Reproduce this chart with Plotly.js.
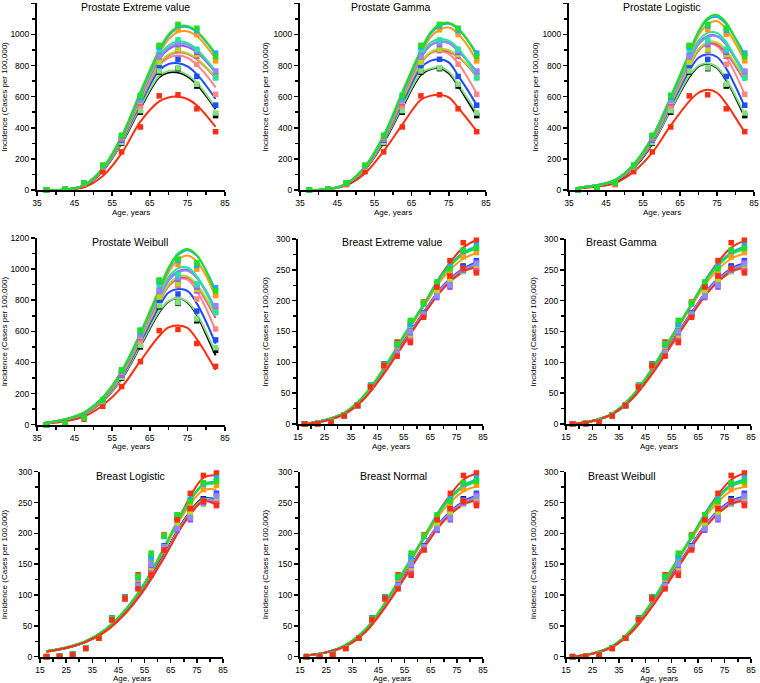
<!DOCTYPE html>
<html><head><meta charset="utf-8">
<script src="https://cdn.plot.ly/plotly-3.0.1.min.js"></script>
<style>html,body{margin:0;padding:0;background:#fff}</style>
</head><body><div id="chart" style="width:760px;height:683px"></div>
<script>
// series order
const seriesNames = ['red','black','lightgreen','blue','salmon','magenta','yellowgreen','purple','periwinkle','teal','orange','sky','green','red2'];
const seriesColors = ['#ff2e12','#000000','#7fe27f','#1f4cff','#ff8585','#ff3fa0','#a8e01a','#9b4dff','#8c8cff','#22e6a0','#ff9a12','#1fa8ff','#1ee01e','#ff2e12'];

const prostateAges = [37.5,42.5,47.5,52.5,57.5,62.5,67.5,72.5,77.5,82.5];
const breastAges = [17.5,22.5,27.5,32.5,37.5,42.5,47.5,52.5,57.5,62.5,67.5,72.5,77.5,82.5];
const prostateFitAges = [37.5,42.5,47.5,52.5,57.5,62.5,67.5,70,72.5,75,77.5,80,82.5];
const breastFitAges = [17.5,25,32.5,40,47.5,55,62.5,70,77.5,82.5];

const prostatePoints = [
  [0,8,35,118,245,405,605,612,522,375],
  [0,5,45,148,300,500,758,780,668,478],
  [0,5,45,150,305,510,765,785,680,495],
  [0,5,45,155,320,545,800,840,730,545],
  [0,5,42,150,325,540,825,895,808,615],
  [0,5,42,148,325,560,830,900,860,725],
  [0,5,42,150,330,570,820,905,870,735],
  [0,5,45,150,330,580,865,935,885,760],
  [0,5,45,152,335,575,860,945,895,765],
  [0,6,45,158,350,610,900,965,905,720],
  [0,6,42,150,340,600,925,1030,1000,830],
  [0,6,45,155,345,595,920,1055,1025,880],
  [0,6,45,160,352,605,930,1065,1040,860],
  null
];

const breastPoints = [
  [0,0.5,4,14,30,60,93,133,158,198,226,265,294,298],
  [0,1,4,14,30,62,97,115,138,178,224,238,256,252],
  [0,1,4,14,30,61,95,112,150,175,216,230,247,255],
  [0,1,4,14,30,63,97,117,140,180,224,242,255,265],
  [0,1,4,14,30,60,94,114,137,176,212,230,250,250],
  [0,1,4,14,30,60,94,112,135,175,208,225,250,248],
  [0,1,4,14,30,61,95,115,145,178,215,235,252,258],
  [0,1,4,14,30,61,95,113,148,177,205,222,250,262],
  [0,1,4,14,30,61,95,115,150,178,208,225,252,260],
  [0,1,4,14,30,62,96,130,160,195,228,255,280,283],
  [0,1,4,14,30,61,95,125,163,197,222,245,271,278],
  [0,1,4,14,30,62,97,128,162,195,230,255,280,290],
  [0,1,4,14,30,62,96,130,168,196,230,252,282,285],
  [0,0.5,3,13,30,60,95,110,132,173,222,240,252,245]
];

const prostateEVFit = [
  [0,2,18,90,235,440,570,595,600,585,545,480,405],
  [0,3,26,122,300,525,725,755,755,730,680,605,520],
  [0,3,28,125,305,535,735,765,765,740,690,615,530],
  [0,3,28,128,315,555,770,810,815,795,745,670,585],
  [0,3,28,130,320,570,800,850,865,850,805,740,660],
  [0,3,28,130,320,575,810,865,885,875,840,785,720],
  [0,3,30,133,325,580,815,870,890,880,845,790,725],
  [0,3,30,135,330,595,840,905,930,920,885,825,755],
  [0,3,30,138,335,600,845,915,940,935,895,835,765],
  [0,3,30,140,340,610,860,930,955,945,905,840,760],
  [0,3,30,135,335,610,875,970,1015,1020,990,925,845],
  [0,3,30,138,340,620,890,990,1040,1048,1015,950,870],
  [0,3,30,140,345,630,900,1000,1050,1055,1020,955,875],
  null
];

const prostateGammaFit = [
  [0,4,30,108,250,420,580,605,612,595,530,455,378],
  [0,5,36,132,305,530,740,775,782,750,670,575,478],
  [0,5,38,135,312,540,750,780,790,760,680,590,500],
  [0,5,38,138,320,560,785,830,840,820,735,645,545],
  [0,5,38,138,325,575,815,880,893,875,815,725,620],
  [0,5,40,140,330,580,815,880,900,890,855,800,730],
  [0,5,40,142,332,585,820,885,905,898,860,805,740],
  [0,5,40,145,338,600,848,928,955,945,895,830,760],
  [0,5,40,148,340,605,850,930,950,945,900,835,760],
  [0,5,42,152,350,620,870,945,970,960,910,830,725],
  [0,5,40,145,340,610,875,980,1030,1045,1005,930,830],
  [0,5,40,148,345,620,890,1000,1055,1068,1035,965,880],
  [0,5,40,150,350,630,900,1010,1065,1075,1040,965,865],
  null
];

const prostateLogisticFit = [
  [10,22,45,118,240,415,570,625,645,625,555,465,370],
  [15,28,55,142,295,515,725,795,812,785,705,595,470],
  [15,28,58,145,300,520,735,800,815,790,715,605,485],
  [15,30,60,150,308,540,765,850,872,855,780,665,535],
  [15,30,60,152,315,552,790,895,940,925,855,745,615],
  [15,30,60,152,318,555,795,900,940,935,880,795,700],
  [15,30,62,155,320,560,800,905,950,948,895,810,720],
  [15,30,62,158,328,572,825,940,990,990,935,840,745],
  [15,30,62,160,330,575,825,935,985,988,935,850,755],
  [15,30,65,165,340,590,845,960,1010,1010,950,845,725],
  [15,30,65,160,335,590,860,995,1065,1085,1035,940,830],
  [15,30,65,165,338,595,875,1015,1095,1112,1065,975,870],
  [15,30,65,165,340,600,880,1020,1105,1125,1075,970,855],
  null
];

const prostateWeibullFit = [
  [6,22,52,125,240,410,570,625,638,622,550,455,352],
  [11,31,66,150,294,505,722,792,812,785,705,580,445],
  [11,31,67,152,298,512,730,795,815,790,715,595,465],
  [12,33,70,158,308,530,760,850,872,860,780,660,520],
  [12,33,72,162,316,545,785,890,935,932,860,745,605],
  [12,33,72,162,318,548,790,895,940,945,890,795,685],
  [12,33,73,165,322,552,795,900,950,953,900,810,700],
  [12,34,75,168,330,565,815,930,985,995,945,850,735],
  [12,34,75,170,332,565,815,925,980,990,945,860,745],
  [12,35,78,175,342,580,835,950,1005,1010,955,850,715],
  [12,35,76,170,335,575,845,980,1060,1088,1050,955,820],
  [12,35,78,175,342,585,860,1000,1090,1122,1085,990,865],
  [12,35,78,175,345,590,870,1010,1100,1130,1090,985,845],
  null
];

const breastEVFit = [
  [0,6,18,45,88,140,192,247,286,298],
  [0,6,17,43,84,133,180,223,248,256],
  [0,6,17,42,83,131,178,221,246,254],
  [0,6,17,43,84,133,181,225,252,262],
  [0,5,16,41,82,130,178,222,248,256],
  [0,5,16,41,82,130,178,221,248,257],
  [0,6,17,42,83,132,179,223,249,258],
  [0,6,17,42,83,131,179,223,250,260],
  [0,6,17,42,83,131,179,223,250,259],
  [0,6,18,46,90,142,192,243,275,284],
  [0,6,18,45,89,141,190,238,268,277],
  [0,6,18,46,90,143,194,246,278,288],
  [0,6,18,46,90,143,193,244,276,285],
  [0,5,16,41,82,130,177,220,247,255]
];

const breastGammaFit = [
  [0,5,17,44,87,139,193,248,286,297],
  [0,5,16,42,83,132,180,223,248,255],
  [0,5,16,41,82,130,178,221,246,253],
  [0,5,16,42,83,132,181,225,252,261],
  [0,5,16,41,81,129,178,222,248,255],
  [0,5,16,41,81,129,178,221,248,256],
  [0,5,16,42,82,131,179,223,249,257],
  [0,5,16,42,82,130,179,223,250,259],
  [0,5,16,42,82,130,179,223,250,258],
  [0,5,17,45,89,141,193,244,275,283],
  [0,5,17,44,88,140,191,239,268,276],
  [0,5,17,45,89,142,195,247,278,287],
  [0,5,17,45,89,142,194,245,276,284],
  [0,5,16,41,81,129,177,220,247,254]
];

const breastLogisticFit = [
  [8,14,24,42,72,115,173,240,290,294],
  [9,14,24,42,71,112,165,221,257,252],
  [9,14,24,41,70,110,162,217,252,248],
  [9,14,24,42,71,112,165,220,256,255],
  [9,14,24,41,70,110,162,218,254,250],
  [9,14,24,41,70,110,162,217,253,250],
  [9,14,24,42,70,111,163,219,255,252],
  [9,14,24,42,70,110,162,218,253,252],
  [9,14,24,42,70,110,162,218,253,252],
  [9,15,25,44,75,119,177,237,278,280],
  [9,15,25,44,75,118,174,232,270,271],
  [9,15,25,44,75,119,177,238,280,283],
  [9,15,25,44,75,119,177,237,279,281],
  [8,14,24,41,70,110,161,216,252,246]
];

const breastNormalFit = [
  [2,7,18,43,85,138,193,248,287,297],
  [2,7,18,42,82,131,180,223,248,255],
  [2,7,18,41,81,129,178,221,246,253],
  [2,7,18,42,82,131,181,225,252,261],
  [2,7,17,40,80,128,178,222,248,255],
  [2,7,17,40,80,128,178,221,248,256],
  [2,7,18,41,81,130,179,223,249,257],
  [2,7,18,41,81,129,179,223,250,259],
  [2,7,18,41,81,129,179,223,250,258],
  [2,7,19,44,87,140,193,244,275,283],
  [2,7,19,43,86,139,191,239,268,276],
  [2,7,19,44,87,141,195,247,278,287],
  [2,7,19,44,87,141,194,245,276,284],
  [2,7,17,40,80,128,177,220,247,254]
];

const breastWeibullFit = [
  [0,5,17,44,87,139,193,248,287,297],
  [0,5,16,42,83,132,181,224,250,255],
  [0,5,16,41,82,130,179,222,247,252],
  [0,5,16,42,83,132,182,226,253,260],
  [0,5,16,41,81,129,179,223,249,254],
  [0,5,16,41,81,129,179,222,249,255],
  [0,5,16,42,82,131,180,224,250,256],
  [0,5,16,42,82,130,180,224,251,258],
  [0,5,16,42,82,130,180,224,251,257],
  [0,5,17,45,89,141,193,244,276,283],
  [0,5,17,44,88,140,191,239,269,275],
  [0,5,17,45,89,142,195,247,279,287],
  [0,5,17,45,89,142,194,245,277,284],
  [0,5,16,41,81,129,178,221,248,253]
];

const W = 760, H = 683;
const panels = [
  {title:'Prostate Extreme value', ages:prostateAges, pts:prostatePoints, fx:prostateFitAges, fit:prostateEVFit, xr:[35,85], yr:[0,1200], dy:200, my:100, px:[37,225], py:[3.3,190], tx:135, ty:7, ylx:5},
  {title:'Prostate Gamma', ages:prostateAges, pts:prostatePoints, fx:prostateFitAges, fit:prostateGammaFit, xr:[35,85], yr:[0,1200], dy:200, my:100, px:[300,486], py:[3.3,190], tx:391, ty:7, ylx:266},
  {title:'Prostate Logistic', ages:prostateAges, pts:prostatePoints, fx:prostateFitAges, fit:prostateLogisticFit, xr:[35,85], yr:[0,1200], dy:200, my:100, px:[569,754], py:[3.3,190], tx:662, ty:7, ylx:536},
  {title:'Prostate Weibull', ages:prostateAges, pts:prostatePoints, fx:prostateFitAges, fit:prostateWeibullFit, xr:[35,85], yr:[0,1200], dy:200, my:100, px:[37,225], py:[238,424.7], tx:130, ty:242, ylx:4},
  {title:'Breast Extreme value', ages:breastAges, pts:breastPoints, fx:breastFitAges, fit:breastEVFit, xr:[15,85], yr:[0,300], dy:50, my:25, px:[298,483], py:[239,424], tx:392, ty:242, ylx:265},
  {title:'Breast Gamma', ages:breastAges, pts:breastPoints, fx:breastFitAges, fit:breastGammaFit, xr:[15,85], yr:[0,300], dy:50, my:25, px:[566,751], py:[239,424], tx:621, ty:242, ylx:533},
  {title:'Breast Logistic', ages:breastAges, pts:breastPoints, fx:breastFitAges, fit:breastLogisticFit, xr:[15,85], yr:[0,300], dy:50, my:25, px:[40,223], py:[471.7,656.7], tx:130, ty:476, ylx:4},
  {title:'Breast Normal', ages:breastAges, pts:breastPoints, fx:breastFitAges, fit:breastNormalFit, xr:[15,85], yr:[0,300], dy:50, my:25, px:[300,483], py:[471.7,656.7], tx:393, ty:476, ylx:265},
  {title:'Breast Weibull', ages:breastAges, pts:breastPoints, fx:breastFitAges, fit:breastWeibullFit, xr:[15,85], yr:[0,300], dy:50, my:25, px:[566,751], py:[471.7,656.7], tx:622, ty:476, ylx:533}
];

const FONT = 'Liberation Sans, Arial, Helvetica, sans-serif';
const traces = [];
const layout = {
  width:W, height:H, margin:{l:0,r:0,t:0,b:0}, showlegend:false,
  paper_bgcolor:'#fff', plot_bgcolor:'rgba(0,0,0,0)',
  font:{family:FONT, color:'#000'}, annotations:[]
};

panels.forEach((p, i) => {
  const k = i + 1;
  const xid = k === 1 ? 'x' : 'x' + k;
  const yid = k === 1 ? 'y' : 'y' + k;
  const xkey = k === 1 ? 'xaxis' : 'xaxis' + k;
  const ykey = k === 1 ? 'yaxis' : 'yaxis' + k;
  const common = {showline:true, linewidth:2, linecolor:'#000', ticks:'outside', ticklen:4, tickwidth:1.5, tickcolor:'#000',
    showgrid:false, zeroline:false, tickfont:{size:8.5, color:'#000', family:FONT}, fixedrange:true};
  layout[xkey] = Object.assign({}, common, {domain:[p.px[0]/W, p.px[1]/W], range:p.xr, anchor:yid, tick0:p.xr[0], dtick:10,
    minor:{tick0:p.xr[0], dtick:5, ticks:'outside', ticklen:3, tickwidth:1.5, tickcolor:'#000', showgrid:false}});
  layout[ykey] = Object.assign({}, common, {domain:[1 - p.py[1]/H, 1 - p.py[0]/H], range:p.yr, anchor:xid, tick0:0, dtick:p.dy,
    minor:{tick0:0, dtick:p.my, ticks:'outside', ticklen:3, tickwidth:1.5, tickcolor:'#000', showgrid:false}});

  // fitted curves
  seriesNames.forEach((nm, s) => {
    if (!p.fit[s]) return;
    traces.push({type:'scatter', mode:'lines', x:p.fx, y:p.fit[s], xaxis:xid, yaxis:yid, name:nm,
      line:{color:seriesColors[s], width:2, shape:'spline', smoothing:1}, hoverinfo:'skip', cliponaxis:false});
  });
  // observed points
  seriesNames.forEach((nm, s) => {
    if (!p.pts[s]) return;
    traces.push({type:'scatter', mode:'markers', x:p.ages, y:p.pts[s], xaxis:xid, yaxis:yid, name:nm,
      marker:{symbol:'square', size:5.5, color:seriesColors[s], line:{width:0}}, hoverinfo:'skip', cliponaxis:false});
  });

  const cx = (p.px[0] + p.px[1]) / 2;
  const cy = (p.py[0] + p.py[1]) / 2;
  layout.annotations.push({text:p.title, xref:'paper', yref:'paper', x:p.tx/W, y:1 - p.ty/H, xanchor:'center', yanchor:'middle',
    showarrow:false, font:{size:10.5, family:FONT, color:'#000'}});
  layout.annotations.push({text:'Age, years', xref:'paper', yref:'paper', x:cx/W, y:1 - (p.py[1] + 22)/H, xanchor:'center', yanchor:'middle',
    showarrow:false, font:{size:8, family:FONT, color:'#000'}});
  layout.annotations.push({text:'Incidence (Cases per 100,000)', xref:'paper', yref:'paper', x:p.ylx/W, y:1 - cy/H, xanchor:'center', yanchor:'middle',
    textangle:-90, showarrow:false, font:{size:8, family:FONT, color:'#000'}});
});

Plotly.newPlot('chart', traces, layout, {staticPlot:true, displayModeBar:false});
</script>
</body></html>
